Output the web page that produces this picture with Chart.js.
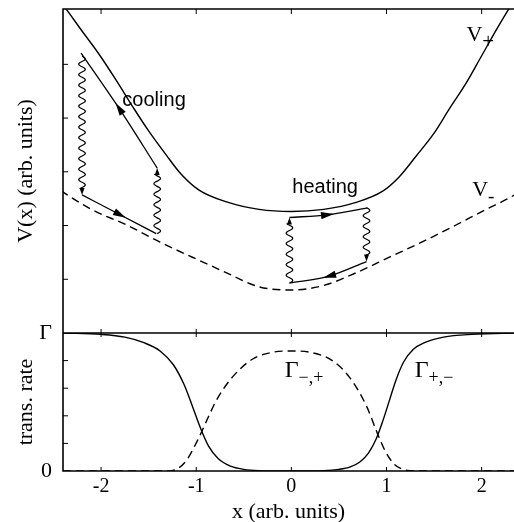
<!DOCTYPE html>
<html>
<head>
<meta charset="utf-8">
<script src="https://cdn.jsdelivr.net/npm/chart.js@4.4.1/dist/chart.umd.min.js"></script>
<style>
  html, body { margin: 0; padding: 0; background: #fff; }
  canvas { display: block; }
</style>
</head>
<body>
<canvas id="chart" width="514" height="522"></canvas>
<script>
// tick positions
const xTicks = [-2, -1, 0, 1, 2];
const vTicks = [1, 2, 3, 4, 5];
const gTicks = [0.2, 0.4, 0.6, 0.8];
const gTickLabels = [[0, '0'], [1, 'Γ']];

// upper panel: potentials
const vPlusX = [-2.42, -2.38, -2.2, -2.01, -1.84, -1.67, -1.5, -1.31, -1.16, -0.97, -0.68, -0.34, 0, 0.34, 0.68, 0.96, 1.13, 1.31, 1.5, 1.66, 1.84, 2.0, 2.18, 2.32, 2.4];
const vPlusY = [6.15, 6.06, 5.62, 5.16, 4.70, 4.22, 3.76, 3.30, 2.96, 2.66, 2.44, 2.30, 2.26, 2.30, 2.43, 2.64, 2.90, 3.29, 3.72, 4.17, 4.66, 5.16, 5.72, 6.13, 6.35];
const vMinusX = [-2.42, -2.38, -2.09, -1.73, -1.38, -1.04, -0.68, -0.34, 0, 0.33, 0.68, 1.03, 1.37, 1.73, 2.08, 2.21, 2.4];
const vMinusY = [2.65, 2.60, 2.29, 2.01, 1.69, 1.41, 1.12, 0.86, 0.80, 0.88, 1.12, 1.41, 1.69, 2.01, 2.33, 2.44, 2.62];

// cooling / heating cycles (solid legs along the potentials)
const coolTopX = [-2.21, -1.81, -1.41];
const coolTopY = [5.21, 4.18, 3.07];
const coolBotX = [-2.20, -1.80, -1.42];
const coolBotY = [2.57, 2.20, 1.85];
const heatTopX = [-0.02, 0.38, 0.80];
const heatTopY = [2.15, 2.20, 2.33];
const heatBotX = [0.79, 0.40, -0.02];
const heatBotY = [1.33, 1.06, 0.93];

// wavy jumps: [x, from V, to V]
const jumps = [
  [-2.20, 5.15, 2.57],
  [-1.41, 1.85, 3.07],
  [0.79, 2.33, 1.33],
  [-0.02, 0.93, 2.15]
];

// lower panel: transition rates
const gPlusMinusX = [-2.4, -2.0, -1.75, -1.55, -1.38, -1.24, -1.13, -1.04, -0.96, -0.87, -0.77, -0.64, -0.5, -0.34, 0, 0.34, 0.5, 0.62, 0.72, 0.81, 0.89, 0.96, 1.03, 1.1, 1.18, 1.28, 1.4, 1.6, 1.9, 2.4];
const gPlusMinusY = [1, 0.99, 0.97, 0.93, 0.87, 0.77, 0.63, 0.47, 0.32, 0.18, 0.09, 0.035, 0.012, 0.003, 0, 0.003, 0.012, 0.03, 0.065, 0.13, 0.23, 0.36, 0.51, 0.66, 0.79, 0.88, 0.93, 0.97, 0.99, 1];
const gMinusPlusX = [-2.4, -1.32, -1.2, -1.1, -0.98, -0.88, -0.79, -0.62, -0.41, -0.2, 0, 0.2, 0.43, 0.61, 0.79, 0.9, 0.99, 1.08, 1.18, 1.3, 2.4];
const gMinusPlusY = [0, 0, 0.015, 0.08, 0.23, 0.38, 0.51, 0.68, 0.81, 0.86, 0.87, 0.86, 0.80, 0.68, 0.47, 0.28, 0.14, 0.05, 0.01, 0, 0];

const pts = (xs, ys) => xs.map((x, i) => ({x: x, y: ys[i]}));

const SERIF = '"Liberation Serif", "DejaVu Serif", serif';
const SANS = '"Liberation Sans", Arial, sans-serif';

function line(data, axis, dashed, width) {
  return {
    data: data,
    yAxisID: axis,
    borderColor: '#000',
    borderWidth: width || 1.4,
    borderDash: dashed ? [8, 5] : [],
    pointRadius: 0,
    fill: false,
    cubicInterpolationMode: 'monotone'
  };
}

function arrowHead(ctx, x, y, ang, len, half) {
  ctx.save();
  ctx.translate(x, y);
  ctx.rotate(ang);
  ctx.beginPath();
  ctx.moveTo(len / 2, 0);
  ctx.lineTo(-len / 2, -half);
  ctx.lineTo(-len / 2, half);
  ctx.closePath();
  ctx.fill();
  ctx.restore();
}

// arrow in the middle of a 3-point leg, pointing along it
function legArrow(ctx, sx, sy, xs, ys, reverse) {
  const a = {x: sx.getPixelForValue(xs[0]), y: sy.getPixelForValue(ys[0])};
  const m = {x: sx.getPixelForValue(xs[1]), y: sy.getPixelForValue(ys[1])};
  const b = {x: sx.getPixelForValue(xs[2]), y: sy.getPixelForValue(ys[2])};
  let ang = Math.atan2(b.y - a.y, b.x - a.x);
  if (reverse) ang += Math.PI;
  arrowHead(ctx, m.x, m.y, ang, 13, 3.6);
}

function subLabel(ctx, x, y, main, sub, mainFont, subFont, dy) {
  ctx.font = mainFont;
  ctx.fillText(main, x, y);
  const w = ctx.measureText(main).width;
  ctx.font = subFont;
  ctx.fillText(sub, x + w, y + dy);
}

const marks = {
  id: 'marks',
  afterDatasetsDraw(chart) {
    const {ctx, chartArea: ca} = chart;
    const {x, yV, yG} = chart.scales;
    const ySep = yG.top;
    ctx.save();
    ctx.strokeStyle = '#000';
    ctx.fillStyle = '#000';

    // frame
    ctx.lineWidth = 1.6;
    ctx.beginPath();
    ctx.moveTo(ca.right + 2, ca.top);
    ctx.lineTo(ca.left, ca.top);
    ctx.lineTo(ca.left, ca.bottom);
    ctx.lineTo(ca.right + 2, ca.bottom);
    ctx.moveTo(ca.left, ySep);
    ctx.lineTo(ca.right + 2, ySep);
    ctx.stroke();

    // inward ticks
    ctx.lineWidth = 1;
    ctx.beginPath();
    xTicks.forEach(v => {
      const px = x.getPixelForValue(v);
      ctx.moveTo(px, ca.top); ctx.lineTo(px, ca.top + 5);
      ctx.moveTo(px, ySep - 4); ctx.lineTo(px, ySep + 4);
      ctx.moveTo(px, ca.bottom); ctx.lineTo(px, ca.bottom - 4);
    });
    vTicks.forEach(v => {
      const py = yV.getPixelForValue(v);
      ctx.moveTo(ca.left, py); ctx.lineTo(ca.left + 5, py);
    });
    gTicks.forEach(v => {
      const py = yG.getPixelForValue(v);
      ctx.moveTo(ca.left, py); ctx.lineTo(ca.left + 5, py);
    });
    ctx.stroke();

    // left tick labels of the rate panel
    ctx.font = '22px ' + SERIF;
    ctx.textAlign = 'right';
    ctx.textBaseline = 'middle';
    gTickLabels.forEach(t => ctx.fillText(t[1], ca.left - 11, yG.getPixelForValue(t[0])));

    // arrows on the solid legs
    legArrow(ctx, x, yV, coolTopX, coolTopY, true);
    legArrow(ctx, x, yV, coolBotX, coolBotY, false);
    legArrow(ctx, x, yV, heatTopX, heatTopY, false);
    legArrow(ctx, x, yV, heatBotX, heatBotY, false);

    // wavy jumps
    ctx.lineWidth = 1.2;
    jumps.forEach(j => {
      const px = x.getPixelForValue(j[0]);
      const p0 = yV.getPixelForValue(j[1]);
      const p1 = yV.getPixelForValue(j[2]);
      const dir = p1 > p0 ? 1 : -1;
      const len = Math.abs(p1 - p0) - 6;
      ctx.beginPath();
      for (let s = 0; s <= len; s += 0.5) {
        const wx = px + 3.3 * Math.sin(2 * Math.PI * s / 10.5);
        const wy = p0 + dir * s;
        if (s === 0) ctx.moveTo(wx, wy); else ctx.lineTo(wx, wy);
      }
      ctx.stroke();
      arrowHead(ctx, px, p1 - dir * 3.5, dir > 0 ? Math.PI / 2 : -Math.PI / 2, 7, 2.5);
    });

    // text labels
    ctx.textBaseline = 'middle';
    ctx.textAlign = 'left';
    ctx.font = '20px ' + SANS;
    ctx.fillText('cooling', x.getPixelForValue(-1.776), yV.getPixelForValue(4.33));
    ctx.fillText('heating', x.getPixelForValue(0.01), yV.getPixelForValue(2.70));
    subLabel(ctx, x.getPixelForValue(1.84), yV.getPixelForValue(5.55), 'V', '+', '22px ' + SERIF, '21px ' + SERIF, 8);
    subLabel(ctx, x.getPixelForValue(1.90), yV.getPixelForValue(2.66), 'V', '-', '22px ' + SERIF, '19px ' + SERIF, 7);
    subLabel(ctx, x.getPixelForValue(-0.07), yG.getPixelForValue(0.73), 'Γ', '−,+', '24px ' + SERIF, '18px ' + SERIF, 8);
    subLabel(ctx, x.getPixelForValue(1.296), yG.getPixelForValue(0.73), 'Γ', '+,−', '24px ' + SERIF, '18px ' + SERIF, 8);
    ctx.restore();
  }
};

new Chart(document.getElementById('chart'), {
  type: 'line',
  data: {
    datasets: [
      line(pts(vPlusX, vPlusY), 'yV', false),
      line(pts(vMinusX, vMinusY), 'yV', true),
      line(pts(coolTopX, coolTopY), 'yV', false, 1.3),
      line(pts(coolBotX, coolBotY), 'yV', false, 1.3),
      line(pts(heatTopX, heatTopY), 'yV', false, 1.3),
      line(pts(heatBotX, heatBotY), 'yV', false, 1.3),
      line(pts(gPlusMinusX, gPlusMinusY), 'yG', false),
      line(pts(gMinusPlusX, gMinusPlusY), 'yG', true)
    ]
  },
  options: {
    responsive: false,
    animation: false,
    devicePixelRatio: 1,
    layout: { padding: { top: 9, right: 0, left: 0, bottom: 0 } },
    plugins: { legend: { display: false }, tooltip: { enabled: false } },
    scales: {
      x: {
        type: 'linear',
        min: -2.4,
        max: 2.34,
        grid: { display: false, drawTicks: false },
        border: { display: false },
        afterBuildTicks: s => { s.ticks = xTicks.map(v => ({value: v})); },
        ticks: { color: '#000', padding: 4, font: { family: SERIF, size: 20 } },
        title: { display: true, text: 'x (arb. units)', color: '#000', padding: { top: 0, bottom: -3 }, font: { family: SERIF, size: 22 } },
        afterFit: s => { s.height = 51; }
      },
      yV: {
        type: 'linear',
        position: 'left',
        stack: 'panels',
        stackWeight: 324,
        weight: 1,
        min: 0,
        max: 6.03,
        grid: { display: false, drawTicks: false },
        border: { display: false },
        ticks: { display: false },
        title: { display: true, text: 'V(x) (arb. units)', color: '#000', padding: { top: 13, bottom: 0 }, font: { family: SERIF, size: 22 } },
        afterFit: s => { s.width = 63; }
      },
      yG: {
        type: 'linear',
        position: 'left',
        stack: 'panels',
        stackWeight: 138,
        weight: 0,
        min: 0,
        max: 1,
        grid: { display: false, drawTicks: false },
        border: { display: false },
        ticks: { display: false },
        title: { display: true, text: 'trans. rate', color: '#000', padding: { top: 13, bottom: 0 }, font: { family: SERIF, size: 22 } },
        afterFit: s => { s.width = 63; }
      }
    }
  },
  plugins: [marks]
});
</script>
</body>
</html>
